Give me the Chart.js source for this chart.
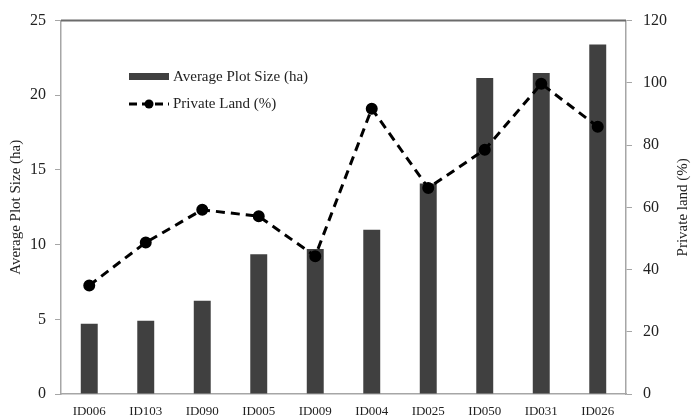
<!DOCTYPE html>
<html>
<head>
<meta charset="utf-8">
<script src="https://cdn.jsdelivr.net/npm/chart.js@4"></script>
<style>
  html, body { margin: 0; padding: 0; background: #fff; }
  #wrap { width: 692px; height: 415px; }
</style>
</head>
<body>
<div id="wrap"><canvas id="plotChart" width="692" height="415"></canvas></div>
<script>
// data
const plots = ['ID006', 'ID103', 'ID090', 'ID005', 'ID009', 'ID004', 'ID025', 'ID050', 'ID031', 'ID026'];
const avgPlotSize = [4.7, 4.9, 6.25, 9.35, 9.7, 11.0, 14.1, 21.15, 21.5, 23.4];
const privateLand = [34.9, 48.7, 59.2, 57.1, 44.3, 91.7, 66.2, 78.5, 99.7, 85.9];

const serif = '"Liberation Serif", "DejaVu Serif", serif';
const axisGrey = '#a6a6a6';

// legend + axis titles drawn by hand (both titles read bottom-to-top in the original)
const extras = {
    id: 'extras',
    afterDraw(chart) {
        const ctx = chart.ctx;
        const area = chart.chartArea;
        ctx.save();
        // top border of the plot
        ctx.strokeStyle = '#6b6b6b';
        ctx.lineWidth = 2;
        ctx.beginPath();
        ctx.moveTo(area.left, area.top);
        ctx.lineTo(area.right, area.top);
        ctx.stroke();

        // axis titles
        const midY = (area.top + area.bottom) / 2;
        ctx.font = '15px ' + serif;
        ctx.fillStyle = '#222';
        ctx.textAlign = 'center';
        ctx.textBaseline = 'middle';
        [['Average Plot Size (ha)', 16], ['Private land (%)', 683]].forEach(([txt, x]) => {
            ctx.save();
            ctx.translate(x, midY);
            ctx.rotate(-Math.PI / 2);
            ctx.fillText(txt, 0, 0);
            ctx.restore();
        });

        // legend
        ctx.textAlign = 'left';
        ctx.fillStyle = '#404040';
        ctx.fillRect(129, 73, 40, 7);
        ctx.fillStyle = '#222';
        ctx.fillText('Average Plot Size (ha)', 173, 77);

        ctx.strokeStyle = '#000';
        ctx.lineWidth = 3;
        ctx.setLineDash([8, 5]);
        ctx.beginPath();
        ctx.moveTo(129, 104);
        ctx.lineTo(169, 104);
        ctx.stroke();
        ctx.setLineDash([]);
        ctx.fillStyle = '#000';
        ctx.beginPath();
        ctx.arc(149, 104, 4.5, 0, Math.PI * 2);
        ctx.fill();
        ctx.fillStyle = '#222';
        ctx.fillText('Private Land (%)', 173, 104);
        ctx.restore();
    }
};

new Chart(document.getElementById('plotChart').getContext('2d'), {
    type: 'bar',
    data: {
        labels: plots,
        datasets: [{
            type: 'line',
            label: 'Private Land (%)',
            data: privateLand,
            yAxisID: 'y1',
            borderColor: '#000',
            borderWidth: 3,
            borderDash: [9, 6],
            pointRadius: 4.5,
            pointBackgroundColor: '#000',
            pointBorderColor: '#000',
            tension: 0,
            order: 0
        }, {
            label: 'Average Plot Size (ha)',
            data: avgPlotSize,
            yAxisID: 'y',
            backgroundColor: '#404040',
            categoryPercentage: 1.0,
            barPercentage: 0.3,
            order: 1
        }]
    },
    options: {
        responsive: false,
        animation: false,
        layout: { padding: { top: 19 } },
        plugins: {
            legend: { display: false },
            tooltip: { enabled: false }
        },
        scales: {
            x: {
                grid: { display: false },
                border: { color: axisGrey, width: 1.5 },
                ticks: { font: { family: serif, size: 13 }, color: '#222', padding: 2, maxRotation: 0 },
                afterFit: s => { s.height = 21; }
            },
            y: {
                position: 'left',
                min: 0, max: 25,
                ticks: { stepSize: 5, font: { family: serif, size: 16 }, color: '#222', padding: 9 },
                grid: { drawOnChartArea: false, tickLength: 6, color: axisGrey },
                border: { color: axisGrey, width: 1.5 },
                afterFit: s => { s.width = 61; }
            },
            y1: {
                position: 'right',
                min: 0, max: 120,
                ticks: { stepSize: 20, font: { family: serif, size: 16 }, color: '#222', padding: 11 },
                grid: { drawOnChartArea: false, tickLength: 6, color: axisGrey },
                border: { color: axisGrey, width: 1.5 },
                afterFit: s => { s.width = 66; }
            }
        }
    },
    plugins: [extras]
});
</script>
</body>
</html>
